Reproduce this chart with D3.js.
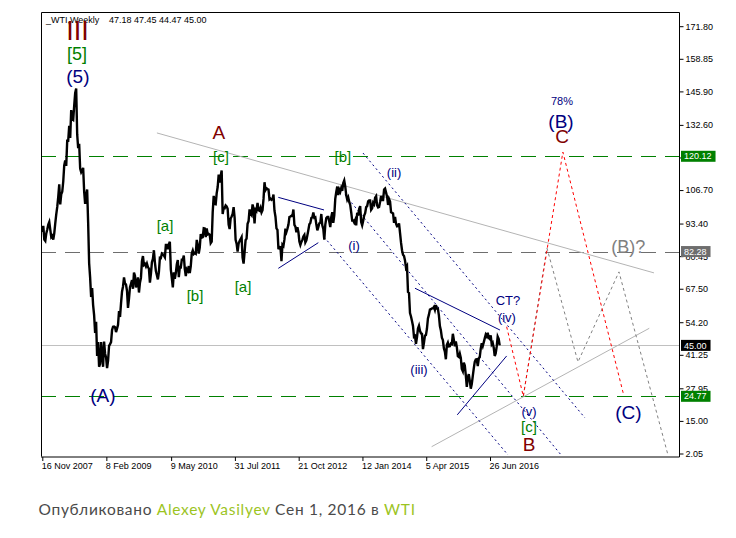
<!DOCTYPE html>
<html><head><meta charset="utf-8">
<script src="https://cdn.jsdelivr.net/npm/d3@7"></script>
<style>body{margin:0;background:#fff;}svg{display:block;}</style>
</head><body>
<svg id="c" width="736" height="538"></svg>
<script>
// ---------- DATA ----------
const seriesStart = "2007-11-16"; // first weekly bar, one value per week
const close2007 = [90, 92.5, 87, 86.5, 89.5, 91, 93];
const close2008 = [94, 91, 88, 88.5, 87, 89.5, 93.5, 97, 100, 104, 109, 101, 105, 106, 110, 116.5, 118.5, 116.3, 126.3, 126.3, 132.2, 127.4, 138.5, 134.9, 134.6, 140.2, 145.3, 147, 128.9, 123.3, 125.1, 115.2, 113.8, 114.6, 115.5, 106.2, 101.2, 104.6, 106.9, 93.9, 77.7, 71.9, 64.2, 67.8, 61.0, 57.0, 49.9, 54.4, 40.8, 46.3, 36.5, 37.7];
const close2009 = [46.3, 40.8, 36.5, 46.5, 41.7, 40.2, 36, 38.9, 44.8, 45.5, 46.3, 51.1, 52.4, 52.5, 52.2, 50.3, 51.6, 53.2, 58.6, 56.3, 61.7, 66.3, 68.4, 72.0, 69.6, 69.2, 66.7, 59.9, 63.6, 68.1, 69.5, 70.9, 67.5, 73.9, 72.7, 68.0, 69.3, 72.0, 66.0, 69.9, 71.8, 78.5, 80.5, 77.0, 77.4, 76.4, 77.5, 76.1, 75.5, 69.9, 73.4, 78.0];
const close2010 = [79.4, 82.8, 78.0, 74.5, 72.9, 71.2, 74.1, 79.8, 79.7, 81.5, 81.2, 80.7, 80.0, 84.9, 84.9, 83.2, 85.1, 86.2, 75.1, 71.6, 68.0, 74.0, 71.5, 73.8, 77.2, 78.9, 72.1, 76.1, 76.0, 79.0, 79.0, 80.7, 75.4, 72.5, 75.2, 74.6, 76.5, 73.7, 76.5, 81.6, 82.7, 81.3, 81.7, 81.4, 86.9, 84.9, 81.5, 83.8, 89.2, 87.8, 88.0, 91.5, 91.4];
const close2011 = [88.0, 91.5, 89.1, 89.3, 89.0, 85.6, 86.2, 97.9, 104.4, 101.2, 101.1, 105.4, 107.9, 112.8, 109.7, 112.3, 114.5, 97.2, 99.6, 99.5, 100.6, 100.2, 99.3, 93.0, 91.2, 95.4, 96.2, 97.2, 99.9, 95.7, 86.9, 85.4, 82.3, 85.4, 86.5, 87.2, 88.0, 79.9, 77.5, 82.0, 86.8, 87.4, 93.3, 94.3, 99.0, 97.4, 96.8, 101.0, 99.4, 93.5, 99.7, 98.8];
const close2012 = [101.6, 98.7, 98.5, 99.6, 97.8, 98.7, 103.2, 109.8, 106.7, 107.4, 107.1, 106.9, 103.0, 103.3, 102.8, 103.1, 104.9, 98.5, 96.1, 91.5, 90.9, 83.2, 84.1, 84.0, 78.5, 85.0, 84.5, 87.1, 91.4, 90.1, 91.4, 92.9, 96.0, 96.2, 96.5, 96.4, 99.0, 92.9, 92.2, 89.9, 91.9, 90.1, 86.3, 84.9, 86.1, 86.9, 88.3, 88.9, 85.9, 86.7, 88.7, 90.8];
const close2013 = [93.1, 93.6, 95.6, 95.9, 97.8, 95.7, 95.9, 93.1, 90.7, 92.0, 93.5, 93.7, 97.2, 92.7, 91.3, 87.0, 93.0, 95.6, 96.0, 96.0, 94.2, 92.0, 96.0, 97.9, 93.7, 96.6, 103.2, 106.0, 108.1, 104.7, 106.9, 106.0, 107.5, 106.4, 109.5, 110.5, 108.2, 104.7, 102.9, 103.8, 102.0, 100.8, 97.9, 94.6, 94.6, 93.8, 94.8, 92.7, 97.7, 96.6, 99.3, 100.3];
const close2014 = [94.0, 92.7, 94.4, 96.6, 97.5, 99.9, 100.3, 102.2, 102.6, 102.6, 98.9, 99.5, 101.7, 101.1, 103.7, 104.3, 100.6, 99.8, 100.0, 102.0, 104.4, 102.7, 102.7, 106.9, 107.3, 105.7, 104.1, 100.8, 103.1, 102.1, 97.9, 97.7, 97.4, 93.7, 96.0, 93.3, 92.3, 92.4, 93.5, 89.7, 85.8, 82.8, 81.0, 80.5, 78.7, 75.8, 76.5, 66.2, 65.8, 57.8, 56.5, 54.7];
const close2015 = [52.7, 48.4, 48.7, 45.6, 48.2, 51.7, 52.8, 50.8, 49.8, 49.6, 43.5, 46.0, 48.9, 49.1, 51.6, 55.7, 57.2, 59.2, 59.4, 59.7, 59.7, 60.3, 59.1, 61.0, 59.6, 59.6, 56.9, 52.7, 50.9, 48.1, 47.1, 43.9, 42.5, 39.5, 45.2, 46.1, 44.6, 44.7, 45.7, 45.5, 49.6, 47.3, 44.6, 46.6, 44.3, 40.7, 40.4, 41.7, 40.0, 35.6, 34.7, 38.1];
const close2016 = [37.0, 33.2, 28.5, 32.2, 33.6, 30.9, 27.8, 29.6, 32.8, 35.9, 38.5, 39.4, 39.5, 36.8, 39.7, 40.4, 43.7, 45.9, 44.7, 46.2, 47.8, 49.3, 48.6, 50.0, 48.0, 47.6, 49.0, 45.4, 46.0, 44.2, 40.8, 41.8, 44.5, 48.5, 47.6, 45.0];

const headerSymbol = "_WTI,Weekly";
const headerQuote = "47.18 47.45 44.47 45.00";

const xTickDates = ["2007-11-16", "2009-02-08", "2010-05-09", "2011-07-31", "2012-10-21", "2014-01-12", "2015-04-05", "2016-06-26"];
const xTickLabels = ["16 Nov 2007", "8 Feb 2009", "9 May 2010", "31 Jul 2011", "21 Oct 2012", "12 Jan 2014", "5 Apr 2015", "26 Jun 2016"];
const yTickValues = [171.80, 158.85, 145.90, 132.60, 119.65, 106.70, 93.40, 80.45, 67.50, 54.20, 41.25, 27.95, 15.00, 2.05];

const levelValues = [120.12, 82.28, 45.00, 24.77];

const trendLines = [
  [["2010-01-29", 129.4], ["2019-08-22", 73.8]],
  [["2015-05-13", 4.75], ["2019-07-20", 51.8]]
];
const channelLines = [
  [["2014-01-16", 121.4], ["2018-04-24", 16.2]],
  [["2013-09-11", 104.8], ["2017-11-07", 1.5]],
  [["2013-04-17", 88.1], ["2016-10-30", 1.5]]
];
const wedgeLines = [
  [["2012-05-31", 103.8], ["2013-04-17", 98.8]],
  [["2012-05-31", 75.6], ["2013-03-08", 85.8]],
  [["2015-01-16", 67.7], ["2016-09-04", 51.1]],
  [["2015-11-09", 17.4], ["2016-10-21", 40.8]]
];
const mainProjection = [["2016-10-21", 52.4], ["2017-02-15", 24.8], ["2017-11-20", 121.8], ["2019-01-18", 26.0]];
const altProjection = [["2017-02-15", 24.8], ["2017-07-31", 83.7], ["2018-03-06", 38.4], ["2018-12-19", 74.2], ["2019-11-28", 1.5]];

const waveLabels = [
  {text: "III", degree: "supercycle", date: "2008-07-20", price: 169.9},
  {text: "[5]", degree: "primaryTop", date: "2008-07-17", price: 160.8},
  {text: "(5)", degree: "intermediate", date: "2008-07-23", price: 152.0},
  {text: "(A)", degree: "intermediate", date: "2009-01-15", price: 24.9},
  {text: "[a]", degree: "primary", date: "2010-03-27", price: 92.8},
  {text: "[b]", degree: "primary", date: "2010-10-24", price: 65.0},
  {text: "A", degree: "cycle", date: "2011-04-10", price: 129.4},
  {text: "[c]", degree: "primary", date: "2011-04-24", price: 119.85},
  {text: "[a]", degree: "primary", date: "2011-09-26", price: 68.2},
  {text: "[b]", degree: "primary", date: "2013-08-28", price: 119.85},
  {text: "(i)", degree: "minor", date: "2013-11-14", price: 84.5},
  {text: "(ii)", degree: "minor", date: "2014-08-22", price: 113.5},
  {text: "(iii)", degree: "minor", date: "2015-02-13", price: 35.6},
  {text: "CT?", degree: "minor", date: "2016-10-30", price: 63.0},
  {text: "(iv)", degree: "minor", date: "2016-10-23", price: 55.9},
  {text: "(v)", degree: "minor", date: "2017-03-27", price: 18.9},
  {text: "[c]", degree: "primary", date: "2017-03-27", price: 12.6},
  {text: "B", degree: "cycle", date: "2017-03-27", price: 5.8},
  {text: "78%", degree: "note", date: "2017-11-14", price: 142.1},
  {text: "(B)", degree: "intermediate", date: "2017-11-07", price: 134.1},
  {text: "C", degree: "cycle", date: "2017-11-14", price: 127.8},
  {text: "(B)?", degree: "alternate", date: "2019-02-23", price: 84.1},
  {text: "(C)", degree: "intermediate", date: "2019-02-23", price: 18.5}
];

const footerParts = ["Опубликовано ", "Alexey Vasilyev", " Сен 1, 2016 в ", "WTI"];

// ---------- RENDER ----------
const parse = d3.timeParse("%Y-%m-%d");
const closes = [].concat(close2007, close2008, close2009, close2010, close2011, close2012, close2013, close2014, close2015, close2016);
const t0 = parse(seriesStart);
const bars = closes.map((v, i) => ({date: d3.timeDay.offset(t0, 7 * i), v}));

const frame = {l: 41, t: 12, r: 679, b: 456.5};
const x = d3.scaleTime().domain([parse("2007-11-16"), parse("2016-06-26")]).range([42.3, 490]);
const y = d3.scaleLinear().domain([2.05, 171.80]).range([453.5, 26.2]);

const FONT = "'Liberation Sans', Arial, sans-serif";
const svg = d3.select("#c");
svg.append("rect").attr("width", 736).attr("height", 538).attr("fill", "#fff");
svg.append("defs").append("clipPath").attr("id", "clip")
  .append("rect").attr("x", frame.l).attr("y", frame.t)
  .attr("width", frame.r - frame.l).attr("height", frame.b - frame.t);
const plot = svg.append("g").attr("clip-path", "url(#clip)");

const pt = p => [x(parse(p[0])), y(p[1])];
const segLine = d3.line();

// horizontal levels
const levelStyle = [
  {stroke: "#008000", dash: "15,9", box: "#008000"},
  {stroke: "#6e6e6e", dash: "15,9", box: "#6e6e6e"},
  {stroke: "#c0c0c0", dash: null, box: "#000000"},
  {stroke: "#008000", dash: "15,9", box: "#008000"}
];
levelValues.forEach((v, i) => {
  const yy = Math.round(y(v)) + 0.5;
  plot.append("line").attr("x1", frame.l).attr("x2", frame.r).attr("y1", yy).attr("y2", yy)
    .attr("stroke", levelStyle[i].stroke).attr("stroke-width", 1)
    .attr("stroke-dasharray", levelStyle[i].dash);
});

// light grey trend lines
trendLines.forEach(l => plot.append("path").attr("d", segLine(l.map(pt)))
  .attr("stroke", "#b4b4b4").attr("stroke-width", 1).attr("fill", "none"));
// navy dotted channel
channelLines.forEach(l => plot.append("path").attr("d", segLine(l.map(pt)))
  .attr("stroke", "#000080").attr("stroke-width", 1).attr("stroke-dasharray", "2,3").attr("fill", "none"));
// navy wedge lines
wedgeLines.forEach(l => plot.append("path").attr("d", segLine(l.map(pt)))
  .attr("stroke", "#000080").attr("stroke-width", 1).attr("fill", "none"));

// price trace
plot.append("path").datum(bars)
  .attr("d", d3.line().x(d => x(d.date)).y(d => y(d.v)))
  .attr("fill", "none").attr("stroke", "#000").attr("stroke-width", 2.4).attr("stroke-linejoin", "miter");

// projections
plot.append("path").attr("d", segLine(altProjection.map(pt)))
  .attr("stroke", "#808080").attr("stroke-width", 1).attr("stroke-dasharray", "3,3").attr("fill", "none");
plot.append("path").attr("d", segLine(mainProjection.map(pt)))
  .attr("stroke", "#ff0000").attr("stroke-width", 1).attr("stroke-dasharray", "3,3").attr("fill", "none");

// header
svg.append("text").attr("x", 46).attr("y", 23).attr("font-family", FONT).attr("font-size", 9).attr("fill", "#000").text(headerSymbol);
svg.append("text").attr("x", 109).attr("y", 23).attr("font-family", FONT).attr("font-size", 9).attr("fill", "#000").text(headerQuote);

// wave labels
const degreeStyle = {
  supercycle: {fill: "#800000", size: 27},
  cycle: {fill: "#800000", size: 19},
  primaryTop: {fill: "#008000", size: 18},
  primary: {fill: "#008000", size: 15},
  intermediate: {fill: "#000080", size: 19},
  minor: {fill: "#000080", size: 13},
  note: {fill: "#000080", size: 11},
  alternate: {fill: "#808080", size: 18}
};
svg.append("g").selectAll("text").data(waveLabels).join("text")
  .attr("x", d => x(parse(d.date)))
  .attr("y", d => y(d.price))
  .attr("text-anchor", "middle").attr("dominant-baseline", "central")
  .attr("font-family", FONT)
  .attr("font-size", d => degreeStyle[d.degree].size)
  .attr("fill", d => degreeStyle[d.degree].fill)
  .text(d => d.text);

// frame
svg.append("path").attr("d", `M${frame.l + 0.5},${frame.b} V${frame.t + 0.5} H${frame.r + 0.5} V${frame.b + 0.5} H${frame.l}`)
  .attr("fill", "none").attr("stroke", "#000").attr("stroke-width", 1);

// right axis
const yAxis = svg.append("g").attr("transform", `translate(${frame.r + 0.5},0)`)
  .call(d3.axisRight(y).tickValues(yTickValues).tickSize(4).tickFormat(d3.format(".2f")));
yAxis.select(".domain").remove();
yAxis.selectAll("text").attr("font-family", FONT).attr("font-size", 9).attr("fill", "#000").attr("x", 6);
yAxis.selectAll("line").attr("stroke", "#000");

// bottom axis
const xAxis = svg.append("g").attr("transform", `translate(0,${frame.b + 0.5})`)
  .call(d3.axisBottom(x).tickValues(xTickDates.map(parse)).tickSize(4).tickFormat((d, i) => xTickLabels[i]));
xAxis.select(".domain").remove();
xAxis.selectAll("text").attr("font-family", FONT).attr("font-size", 9).attr("fill", "#000")
  .attr("text-anchor", "start").attr("dx", -1).attr("y", 6);
xAxis.selectAll("line").attr("stroke", "#000");

// level value boxes on the axis
levelValues.forEach((v, i) => {
  const g = svg.append("g");
  const yy = y(v);
  const t = g.append("text").attr("x", frame.r + 5).attr("y", yy).attr("dy", "0.35em")
    .attr("font-family", FONT).attr("font-size", 9).attr("fill", "#fff").text(d3.format(".2f")(v));
  const w = t.node().getComputedTextLength();
  g.insert("rect", "text").attr("x", frame.r + 2).attr("y", yy - 5.5).attr("width", w + 7).attr("height", 11)
    .attr("fill", levelStyle[i].box);
});

// footer
const foot = svg.append("text").attr("x", 38.5).attr("y", 515)
  .attr("font-family", "Lato, 'Open Sans', sans-serif").attr("font-size", 15.5).attr("letter-spacing", 0.7);
footerParts.forEach((s, i) => foot.append("tspan").attr("fill", i % 2 ? "#9cc41f" : "#4a4a4a").text(s));
</script>
</body></html>
